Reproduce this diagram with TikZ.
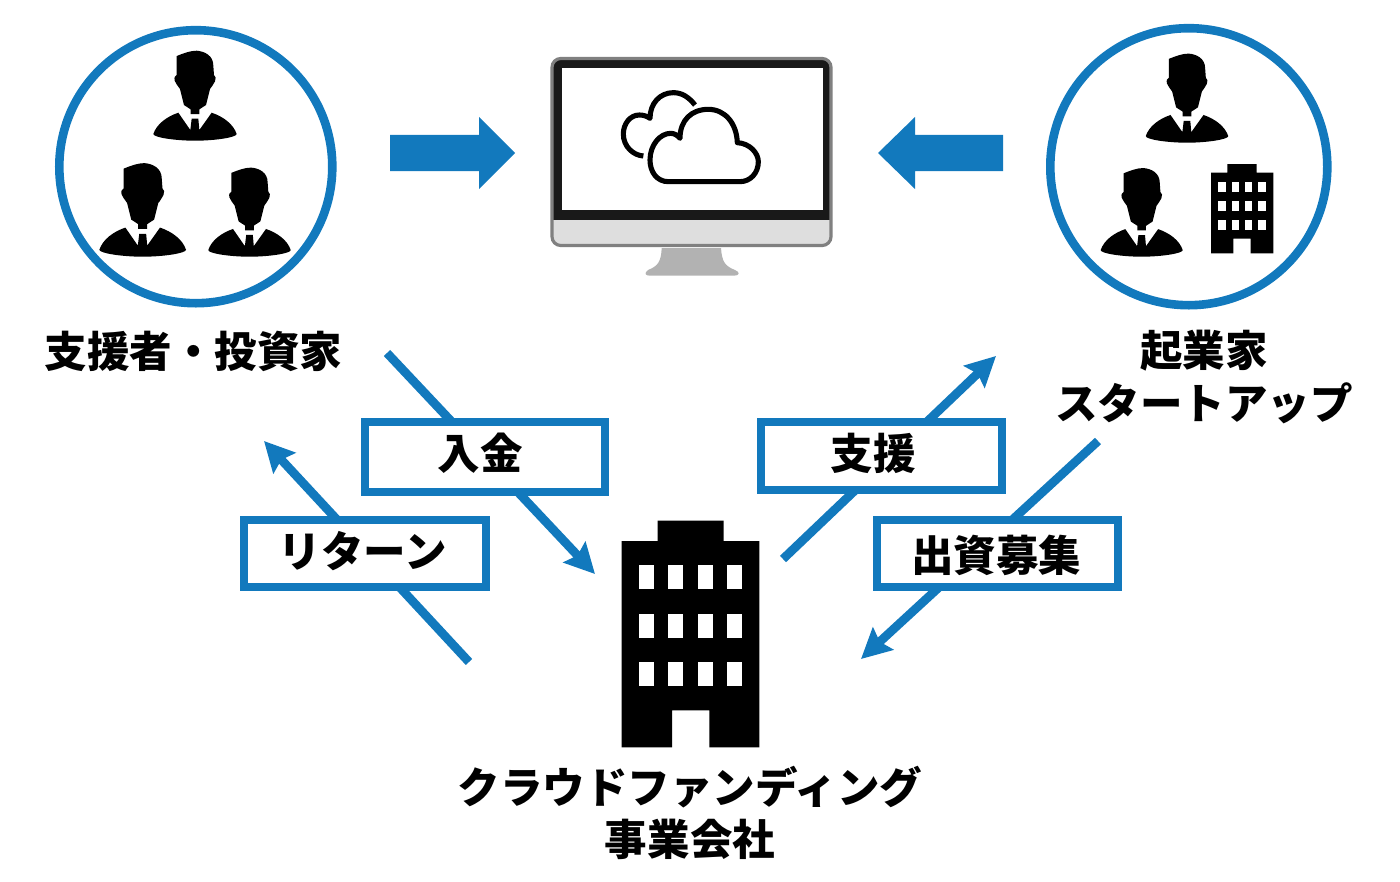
\documentclass[tikz,border=0pt]{standalone}
\usepackage{fontspec}
\setmainfont{Noto Sans CJK JP}
\usetikzlibrary{arrows.meta,backgrounds}
\definecolor{blu}{HTML}{1279BD}
\newcommand{\tagtext}[3]{\kern#1\makebox[0pt]{\smash{\raisebox{#2}{#3}}}\kern-#1\vphantom{#3}}
\tikzset{
  every node/.style={font=\fontsize{24.2pt}{30pt}\selectfont\bfseries},
  ring/.style={draw=blu,line width=4.9pt},
  tag/.style={draw=blu,line width=4.5pt,fill=white,inner sep=0pt,anchor=center},
  link/.style={draw=blu,line width=5pt,-{Stealth[length=17pt,width=17pt,inset=2.5pt]}},
  block/.style={fill=blu},
  cloudline/.style={draw=black,line width=2.9pt,line join=round},
  person/.pic={
    \fill[black,scale=1/3] (-55,-254) .. controls (-35,-262) and (-15,-270) .. (5,-270)
      .. controls (30,-268) and (55,-255) .. (55,-225) -- (57,-197)
      .. controls (63,-195) and (63,-185) .. (60,-178)
      .. controls (55,-170) and (50,-160) .. (45,-155) -- (33,-107) -- (13,-94) -- (13,-80) -- (-13,-80) -- (-13,-94)
      -- (-33,-107) -- (-45,-155) .. controls (-52,-165) and (-58,-172) .. (-61,-180)
      .. controls (-63,-190) and (-60,-195) .. (-55,-197) -- cycle;
    \fill[black,scale=1/3] (-125,-20) .. controls (-115,-50) and (-85,-72) .. (-50,-84)
      -- (-14,-32) -- (-10,-66) -- (10,-66) -- (13,-32) -- (50,-84)
      .. controls (85,-72) and (115,-50) .. (125,-20)
      .. controls (125,-10) and (60,0) .. (0,0) .. controls (-60,0) and (-125,-10) .. (-125,-20) -- cycle;
  },
}
\begin{document}
\begin{tikzpicture}[x=0.02cm,y=-0.02cm]
\useasboundingbox (0,0) rectangle (1400,882);
% groups
\node[ring,circle,minimum size=273*0.02cm,inner sep=0pt] (investors) at (195.8,166.7) {};
\node[ring,circle,minimum size=277*0.02cm,inner sep=0pt] (founders) at (1188.8,166.7) {};
\pic at (195,140.7) {person};
\pic[scale=1.04] at (142.7,256.7) {person};
\pic[scale=.99] at (249.5,256.7) {person};
\pic[scale=.99] at (1187,142.7) {person};
\pic[scale=.985] at (1141.7,256.7) {person};
% small building
\fill[black] (1211,253.3) |- (1227.3,172.7) |- (1256.7,164) |- (1273.3,172.7) |- (1250.7,253.3) |- (1233.3,238.7) |- cycle;
\foreach \wx in {1218.3,1231.7,1245,1258.3}\foreach \wy in {181.7,200.7,219.7}
  \fill[white] (\wx,\wy) rectangle +(7.4,10);
% large building
\fill[black] (621.7,747.3) |- (657.7,541) |- (723.7,520.7) |- (759.3,541) |- (709.3,747.3) |- (672,710.3) |- cycle;
\foreach \wx in {639,668.3,697.7,727.3}\foreach \wy in {565.3,613.7,662.3}
  \fill[white] (\wx,\wy) rectangle +(15,24);
% monitor
\fill[black!90,rounded corners=5pt] (552,58.5) rectangle (831,245.5);
\fill[black!13] (552,220) -- (831,220) {[rounded corners=5pt] -- (831,245.5) -- (552,245.5)} -- cycle;
\draw[black!50,line width=1.8pt,rounded corners=5pt] (552,58.5) rectangle (831,245.5);
\fill[white] (562,68.3) rectangle (822.7,210);
\fill[black!30] (661.7,248) .. controls (661,262) and (658,266) .. (648,270)
  .. controls (644,273) and (645,275.7) .. (650,275.7) -- (734,275.7)
  .. controls (740,275.7) and (740,272) .. (735,270)
  .. controls (725,266) and (722,262) .. (721,248) -- cycle;
% clouds
\begin{scope}[shift={(540,50)},scale=1/3]
\draw[cloudline] (465,165) .. controls (445,140) and (425,128) .. (400,128)
  .. controls (360,128) and (330,160) .. (330,205)
  .. controls (320,198) and (310,195) .. (298,195)
  .. controls (270,195) and (250,222) .. (250,252)
  .. controls (250,290) and (280,316) .. (310,318);
\draw[cloudline] (385,395) .. controls (350,395) and (330,365) .. (330,330)
  .. controls (330,285) and (360,250) .. (392,250)
  .. controls (402,250) and (412,255) .. (420,265)
  .. controls (420,210) and (455,178) .. (505,178)
  .. controls (555,178) and (590,220) .. (592,278)
  .. controls (630,280) and (655,310) .. (655,335)
  .. controls (655,370) and (630,395) .. (600,395) -- cycle;
\end{scope}
% block arrows
\fill[block] (390,135) -- (479,135) -- (479,117) -- (515,153) -- (479,189) -- (479,171) -- (390,171) -- cycle;
\fill[block] (1003,135) -- (915,135) -- (915,117) -- (878,153) -- (915,189) -- (915,171) -- (1003,171) -- cycle;
% labels
\node (lblinv) at (193.5,351) {支援者・投資家};
\node[align=center] (lblfou) at (1204,377) {起業家\\スタートアップ};
\node[align=center] (lblcf) at (690,813) {クラウドファンディング\\事業会社};
% free ends
\coordinate (a1) at (387,353); \coordinate (b1) at (595,574);
\coordinate (a2) at (469,662); \coordinate (b2) at (264,441);
\coordinate (a3) at (783,559); \coordinate (b3) at (996,356);
\coordinate (a4) at (1098,441); \coordinate (b4) at (861,659);
\draw[link] (a1) -- (b1);
\draw[link] (a2) -- (b2);
\draw[link] (a3) -- (b3);
\draw[link] (a4) -- (b4);
% tags
\node[tag,minimum width=240.3*0.02cm,minimum height=69.4*0.02cm] (t1) at (484.8,457) {\tagtext{-2.7pt}{2.3pt}{入金}};
\node[tag,minimum width=242*0.02cm,minimum height=67*0.02cm] (t2) at (365,553.5) {\tagtext{-1.4pt}{1.1pt}{リターン}};
\node[tag,minimum width=240.4*0.02cm,minimum height=67.4*0.02cm] (t3) at (881.5,456) {\tagtext{-4.8pt}{1.7pt}{支援}};
\node[tag,minimum width=240.4*0.02cm,minimum height=67.3*0.02cm] (t4) at (997.5,553.3) {\tagtext{-0.8pt}{-1.1pt}{出資募集}};
\end{tikzpicture}
\end{document}
